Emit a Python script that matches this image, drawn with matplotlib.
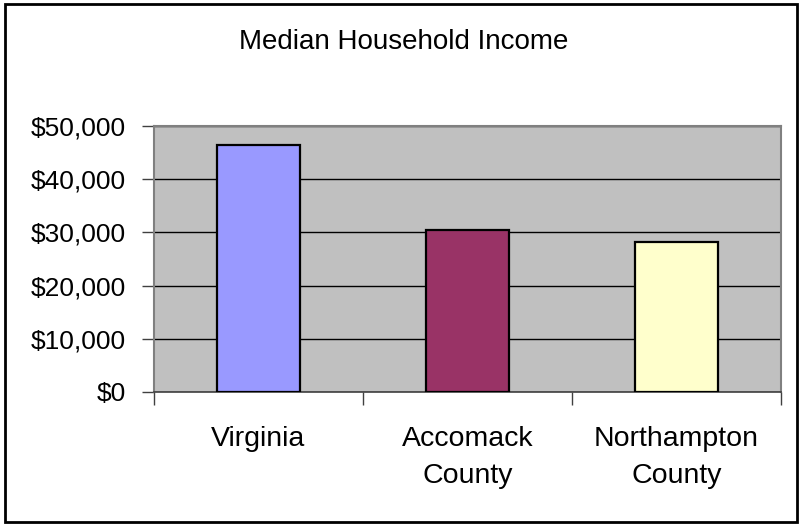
#!/usr/bin/env python3

import matplotlib
matplotlib.use("Agg")
from matplotlib import pyplot as plt
from matplotlib.patches import Rectangle
from matplotlib.ticker import FuncFormatter, FixedLocator
from matplotlib.transforms import blended_transform_factory

# Data
categories = ["Virginia", "Accomack\nCounty", "Northampton\nCounty"]
incomes = [46500, 30400, 28200]
bar_colors = ["#9999FF", "#993366", "#FFFFCC"]
y_ticks = [0, 10000, 20000, 30000, 40000, 50000]

plt.rcParams['font.family'] = ['Liberation Sans', 'DejaVu Sans']

W, H = 804, 529
fig = plt.figure(figsize=(W / 100, H / 100), dpi=100)
ax = fig.add_axes([0.1915, 0.259, 0.7799, 0.5028])
ax.set_facecolor("#C0C0C0")

x = list(range(len(categories)))
ax.bar(x, incomes, width=0.4, color=bar_colors, edgecolor="black", linewidth=1.6, zorder=3)

ax.set_xlim(-0.5, len(categories) - 0.5)
ax.set_ylim(0, 50000)
ax.set_yticks(y_ticks)
ax.yaxis.set_major_formatter(FuncFormatter(lambda v, p: "${:,.0f}".format(v)))
ax.yaxis.grid(True, color="black", linewidth=1.0, zorder=1)
ax.set_axisbelow(True)

# tick marks sit on the category boundaries
ax.xaxis.set_major_locator(FixedLocator([-0.5, 0.5, 1.5, 2.5]))
ax.set_xticklabels([])
ax.tick_params(axis="x", which="major", length=9, width=1, color="#404040", direction="out")
ax.tick_params(axis="y", length=9, width=1, color="#404040", direction="out", pad=11, labelsize=19)

# category labels, one text per line so the baselines land where Excel put them
trans = blended_transform_factory(ax.transData, fig.transFigure)
baselines = [445.5, 483]
for xi, name in zip(x, categories):
    for line, base in zip(name.split("\n"), baselines):
        ax.text(xi, 1 - base / H, line, transform=trans, ha="center", va="baseline",
                fontsize=20.5)

for side in ["top", "right", "left"]:
    ax.spines[side].set_color("#808080")
    ax.spines[side].set_linewidth(1.5)
ax.spines["bottom"].set_color("#404040")
ax.spines["bottom"].set_linewidth(1.2)

fig.text(0.5025, 1 - 49.3 / H, "Median Household Income", ha="center", va="baseline", fontsize=20)

# outer chart border
fig.patches.append(Rectangle((0.006, 0.013), 0.985, 0.98, transform=fig.transFigure,
                             fill=False, edgecolor="black", linewidth=2))

plt.savefig("out.png", dpi=100)
